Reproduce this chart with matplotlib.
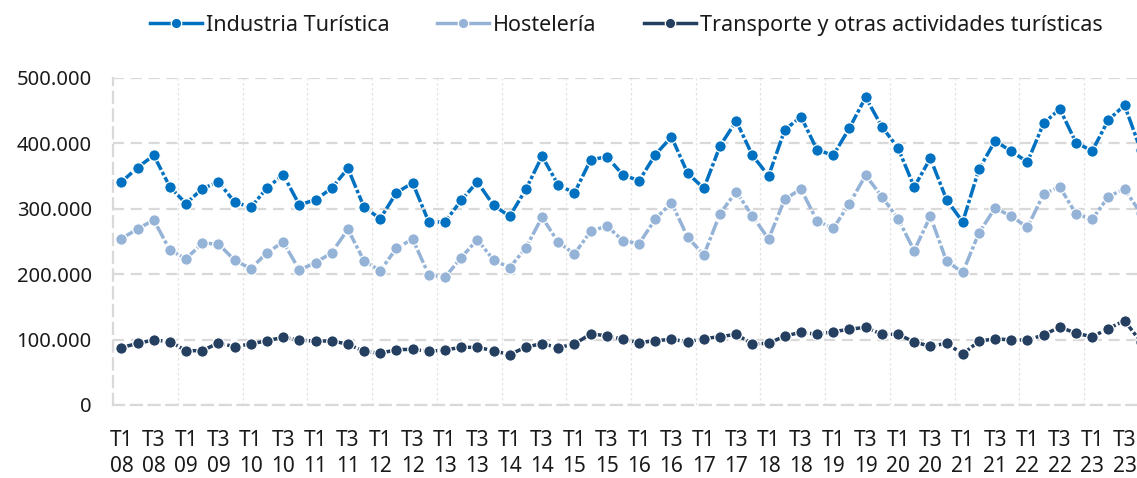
import matplotlib
matplotlib.use("Agg")
import matplotlib.pyplot as plt
from matplotlib.ticker import FuncFormatter
import numpy as np

plt.rcParams['font.family'] = ['Noto Sans', 'DejaVu Sans']

# Datos (miles de personas), T1 2008 - T4 2023
anos = ['08', '09', '10', '11', '12', '13', '14', '15',
        '16', '17', '18', '19', '20', '21', '22', '23']
trimestres = ['T1', 'T2', 'T3', 'T4']

industria = [340.7, 362.6, 381.5, 333.0, 307.6, 330.5, 340.7, 310.0, 302.0, 331.5,
             351.9, 305.6, 313.7, 331.0, 361.6, 302.0, 284.7, 324.4, 339.2, 279.6,
             279.6, 312.7, 340.7, 305.0, 288.3, 329.5, 380.0, 336.1, 323.9, 374.3,
             379.4, 351.4, 342.7, 382.4, 409.5, 354.0, 331.0, 395.7, 433.9, 381.5,
             349.9, 420.2, 440.5, 389.6, 381.5, 423.2, 470.1, 425.2, 392.7, 333.0,
             376.9, 313.7, 279.6, 360.1, 403.4, 387.6, 371.3, 430.4, 452.3, 400.8,
             388.1, 435.4, 457.9, 389.6]
hosteleria = [254.1, 268.9, 282.7, 236.4, 223.5, 247.1, 246.0, 221.1, 208.3, 232.7,
              249.0, 206.3, 217.4, 232.7, 268.4, 220.0, 205.2, 239.4, 253.6, 198.6,
              195.1, 225.1, 252.6, 221.5, 209.8, 240.3, 286.8, 248.6, 230.7, 265.4,
              273.5, 251.0, 246.5, 284.2, 309.1, 256.2, 229.2, 292.3, 325.9, 288.8,
              253.6, 314.3, 330.0, 281.1, 270.0, 307.6, 351.0, 318.3, 284.7, 235.8,
              288.3, 219.6, 202.7, 262.8, 301.0, 288.3, 271.5, 322.4, 333.1, 291.8,
              283.7, 318.3, 330.0, 292.9]
transporte = [87.6, 94.2, 99.3, 96.7, 83.0, 83.0, 94.7, 89.1, 93.2, 98.2,
              103.4, 99.3, 97.3, 98.2, 92.7, 82.0, 79.0, 84.5, 85.1, 82.0,
              84.0, 88.1, 88.1, 83.0, 76.9, 88.6, 93.7, 87.6, 93.2, 108.5,
              105.9, 100.4, 95.2, 98.2, 100.4, 96.7, 101.3, 104.4, 108.0, 93.2,
              94.2, 105.4, 111.0, 108.0, 112.0, 115.7, 118.7, 108.0, 108.0, 96.3,
              89.7, 94.2, 77.9, 97.3, 101.3, 99.3, 99.3, 107.0, 119.2, 109.5,
              104.4, 116.6, 128.8, 96.7]

series = [
    ('Industria Turística', industria, '#0070C0'),
    ('Hostelería', hosteleria, '#95B3D7'),
    ('Transporte y otras actividades turísticas', transporte, '#243F60'),
]

periodos = [t + '\n' + a for a in anos for t in trimestres]
x = np.arange(len(periodos))

grid_color = '#D9D9D9'
text_color = '#1a1a1a'

fig = plt.figure(figsize=(11.37, 4.78), dpi=100)
# el eje se sale por la derecha (recorte del original)
ax = fig.add_axes([113.3 / 1137, 73 / 478, 1035.5 / 1137, 327.3 / 478])

handles = []
for nombre, valores, color in series:
    h, = ax.plot(x, valores, color=color, linewidth=2.5,
                 dashes=(4, 0.7, 1, 0.7),
                 marker='o', markersize=8.3, markerfacecolor=color,
                 markeredgecolor='white', markeredgewidth=0.9, zorder=3)
    handles.append(h)

ax.set_xlim(-0.5, len(x) - 0.5)
ax.set_ylim(0, 500)
ax.set_yticks([0, 100, 200, 300, 400, 500])
ax.yaxis.set_major_formatter(FuncFormatter(
    lambda v, p: '0' if v == 0 else f"{int(v * 1000):,}".replace(',', '.')))

ax.set_xticks(x[::2])
ax.set_xticklabels(periodos[::2])
ax.set_xticks(np.arange(3.5, len(x), 4), minor=True)

ax.tick_params(axis='both', which='both', length=0, colors=text_color)
ax.tick_params(axis='y', pad=15.5, labelsize=14.5)
ax.tick_params(axis='x', pad=18, labelsize=15)
for lab in ax.get_xticklabels():
    lab.set_linespacing(1.3)

# rejilla
ax.yaxis.grid(True, color=grid_color, linewidth=1.6, linestyle=(0, (5, 3)))
ax.xaxis.grid(True, which='minor', color='#E3E3E3', linewidth=0.9, linestyle=(0, (2, 2)))
ax.xaxis.grid(False, which='major')
ax.set_axisbelow(True)

for s in ['top', 'right']:
    ax.spines[s].set_visible(False)
for s in ['left', 'bottom']:
    ax.spines[s].set_color(grid_color)
    ax.spines[s].set_linewidth(1.6)
    ax.spines[s].set_linestyle((0, (5, 3)))

leg = fig.legend(handles, [s[0] for s in series], loc='center',
                 bbox_to_anchor=(0.551, 0.947), ncol=3, frameon=False,
                 fontsize=15.5, handlelength=2.4, handletextpad=0.2,
                 columnspacing=2.2)
for t in leg.get_texts():
    t.set_color(text_color)
for lh in leg.get_lines():
    lh.set_linestyle('-')
    lh.set_markersize(7.5)

fig.savefig('out.png', dpi=100)
